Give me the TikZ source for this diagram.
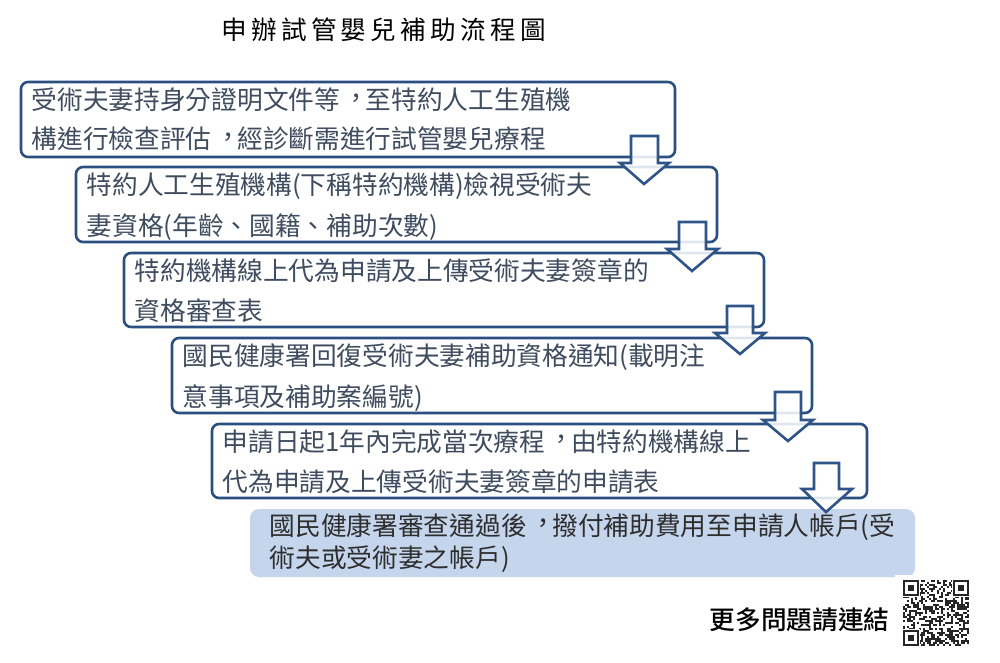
\documentclass[tikz,border=0pt]{standalone}
\usepackage{fontspec}
\setmainfont{Noto Sans CJK TC}[Script=CJK,Language=Chinese Traditional]
\newfontfamily\bodyfont{Noto Sans CJK TC}[Script=CJK,Language=Chinese Traditional]
\newfontfamily\titlefont{Noto Sans CJK TC}[Script=CJK,Language=Chinese Traditional,LetterSpace=17]
\newfontfamily\boldfont{Noto Sans CJK TC Medium}[Script=CJK,Language=Chinese Traditional]
\definecolor{boxline}{HTML}{2A4F80}
\definecolor{arrowline}{HTML}{2F5488}
\definecolor{boxfill}{HTML}{C5D5EC}
\definecolor{bodytext}{HTML}{3F4C60}
\newcommand{\midcomma}{\hbox to 1em{\hskip 0.14em\raisebox{0.1em}{，}\hss}}
\tikzset{
  stepbox/.style={draw=boxline,line width=2.6pt,rounded corners=7pt,anchor=north west,inner sep=0pt,outer sep=0pt,fill=none},
  endbox/.style={fill=boxfill,rounded corners=9pt,anchor=north west,inner sep=0pt,outer sep=0pt},
  line/.style={anchor=base west,inner sep=0pt,text=bodytext,font=\bodyfont\fontsize{25.7pt}{28pt}\selectfont},
  endline/.style={line,text=black!82},
  blockarrow/.style={draw=arrowline,line width=2.6pt,fill=white,fill opacity=0.86,line join=miter}
}
% #1 shaft left, #2 shaft right, #3 top, #4 head y, #5 head left, #6 head right, #7 tip x, #8 tip y
\newcommand{\blockarrow}[8]{\path[blockarrow] (#1,#3) -- (#2,#3) -- (#2,#4) -- (#6,#4) -- (#7,#8) -- (#5,#4) -- (#1,#4) -- cycle;}
\begin{document}
\begin{tikzpicture}[x=1pt,y=-1pt]
\useasboundingbox (0,0) rectangle (1000,663);
\fill[white] (0,0) rectangle (1000,663);
\node[inner sep=0pt,anchor=base west,text=black,font=\titlefont\fontsize{25.6pt}{28pt}\selectfont] (title) at (221,40) {申辦試管嬰兒補助流程圖};

\node[stepbox,minimum width=654pt,minimum height=75pt] (b1) at (21,82) {};
\node[stepbox,minimum width=641pt,minimum height=75pt] (b2) at (76,167) {};
\node[stepbox,minimum width=640pt,minimum height=74pt] (b3) at (124,253) {};
\node[stepbox,minimum width=640pt,minimum height=75pt] (b4) at (172,338) {};
\node[stepbox,minimum width=655pt,minimum height=74pt] (b5) at (212,424) {};
\node[endbox,minimum width=665pt,minimum height=68pt] (b6) at (250,509) {};
\fill[white] (895,575) rectangle (975,650);

\blockarrow{631}{658}{136}{163}{620}{669}{644}{184}
\blockarrow{679}{706}{222}{249}{667}{718}{692}{271}
\blockarrow{727}{753}{306}{333}{715}{765}{740}{354}
\blockarrow{775}{801}{392}{420}{763}{813}{788}{441}
\blockarrow{814}{839}{463}{489}{802}{852}{826}{512}

\node[line] (t11) at (31.5,110) {受術夫妻持身分證明文件等\midcomma 至特約人工生殖機};
\node[line] (t12) at (31.5,149) {構進行檢查評估\midcomma 經診斷需進行試管嬰兒療程};
\node[line] (t21) at (86.5,194) {特約人工生殖機構(下稱特約機構)檢視受術夫};
\node[line] (t22) at (86.5,235) {妻資格(年齡、國籍、補助次數)};
\node[line] (t31) at (134.5,280) {特約機構線上代為申請及上傳受術夫妻簽章的};
\node[line] (t32) at (134.5,320) {資格審查表};
\node[line] (t41) at (182.5,365) {國民健康署回復受術夫妻補助資格通知(載明注};
\node[line] (t42) at (182.5,406) {意事項及補助案編號)};
\node[line] (t51) at (222.5,451) {申請日起1年內完成當次療程\midcomma 由特約機構線上};
\node[line] (t52) at (222.5,491) {代為申請及上傳受術夫妻簽章的申請表};
\node[endline] (t61) at (269.5,535) {國民健康署審查通過後\midcomma 撥付補助費用至申請人帳戶(受};
\node[endline] (t62) at (269.5,567) {術夫或受術妻之帳戶)};

\node[inner sep=0pt,anchor=base west,text=black,font=\boldfont\fontsize{25.7pt}{28pt}\selectfont] (more) at (709.5,629) {更多問題請連結};

% QR code
\begin{scope}[shift={(903,580)},x=2pt,y=-2pt]
\pgfmathsetseed{4711}
\foreach \i in {0,...,32}{
  \foreach \j in {0,...,32}{
    \pgfmathsetmacro{\r}{rnd}
    \ifdim \r pt<0.5pt
      \fill[black!85] (\i,\j) rectangle ++(1,1);
    \fi
  }
}
\foreach \cx/\cy in {0/0,25/0,0/25}{
  \fill[white] (\cx-0.5,\cy-0.5) rectangle ++(9,9);
  \fill[black!85] (\cx,\cy) rectangle ++(8,8);
  \fill[white] (\cx+1.2,\cy+1.2) rectangle ++(5.6,5.6);
  \fill[black!85] (\cx+2.4,\cy+2.4) rectangle ++(3.2,3.2);
}
\end{scope}
\end{tikzpicture}
\end{document}
